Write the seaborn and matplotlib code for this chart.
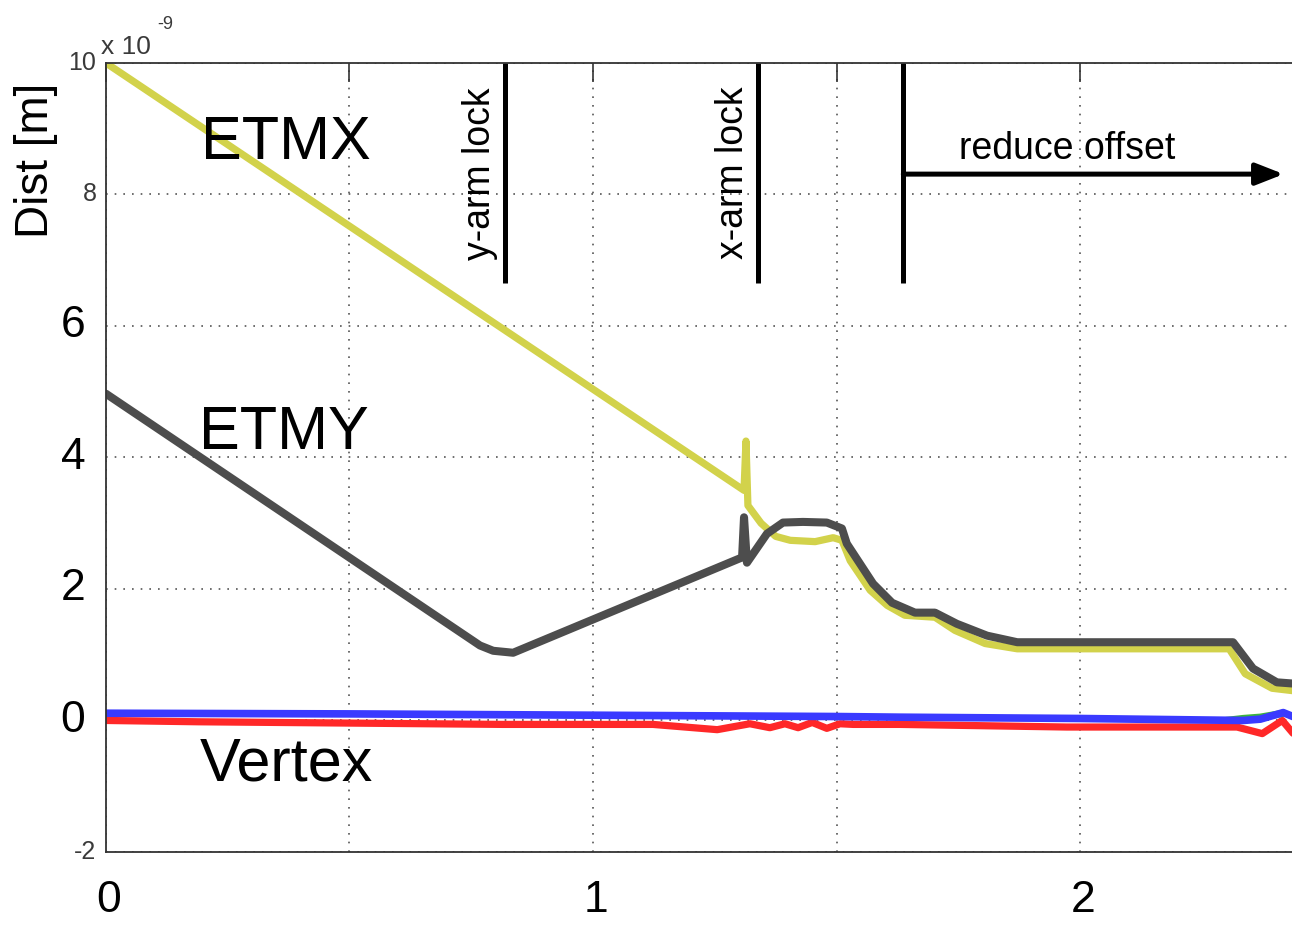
import seaborn as sns
from matplotlib import pyplot as plt
from matplotlib import transforms

sns.set_theme(style='white')
plt.rcParams['font.family'] = ['Liberation Sans', 'DejaVu Sans']
plt.rcParams['text.color'] = 'black'

# data (x in the plot's time unit, y in nm)
etmx_t = [0, 1.310, 1.314, 1.318, 1.345, 1.375, 1.405, 1.456, 1.493, 1.511, 1.528,
          1.569, 1.604, 1.640, 1.702, 1.743, 1.805, 1.871, 2.306, 2.339, 2.394, 2.44]
etmx = [10.0, 3.50, 4.25, 3.27, 3.00, 2.80, 2.74, 2.72, 2.78, 2.74, 2.43,
        1.98, 1.75, 1.60, 1.57, 1.37, 1.17, 1.09, 1.09, 0.71, 0.49, 0.45]

etmy_t = [0, 0.768, 0.795, 0.836, 1.306, 1.310, 1.316, 1.357, 1.390, 1.431, 1.480, 1.511,
          1.521, 1.575, 1.614, 1.661, 1.702, 1.747, 1.809, 1.871, 2.314, 2.355, 2.404, 2.44]
etmy = [4.97, 1.14, 1.06, 1.03, 2.48, 3.09, 2.40, 2.84, 3.01, 3.02, 3.01, 2.92,
        2.69, 2.08, 1.79, 1.64, 1.64, 1.47, 1.29, 1.19, 1.19, 0.79, 0.58, 0.56]

red_t = [0, 0.19, 0.815, 1.123, 1.255, 1.322, 1.363, 1.394, 1.421, 1.450, 1.480,
         1.507, 1.534, 1.63, 1.973, 2.322, 2.374, 2.415, 2.44]
red = [0.0, -0.02, -0.06, -0.06, -0.14, -0.05, -0.11, -0.05, -0.11, -0.03, -0.12,
       -0.05, -0.06, -0.06, -0.10, -0.10, -0.20, 0.0, -0.22]

green_t = [2.30, 2.335, 2.37, 2.417]
green = [0.0, 0.03, 0.05, 0.11]

blue_t = [0, 0.5, 1.0, 1.5, 1.63, 2.0, 2.335, 2.37, 2.417, 2.44]
blue = [0.11, 0.10, 0.08, 0.06, 0.05, 0.03, 0.0, 0.02, 0.12, 0.05]

events = [0.819, 1.339, 1.637]
event_labels = ['y-arm lock', 'x-arm lock']
yticks = [-2, 0, 2, 4, 6, 8, 10]
big_yticks = [0, 2, 4, 6]
xticks_lab = [0, 1, 2]

fig = plt.figure(figsize=(12.92, 9.39), dpi=100)
ax = fig.add_axes([0.0820, 0.0927, 0.9195, 0.8402])

sns.lineplot(x=etmx_t, y=etmx, ax=ax, color='#d2d24b', linewidth=5.2, sort=False, estimator=None)
sns.lineplot(x=etmy_t, y=etmy, ax=ax, color='#4d4d4d', linewidth=5.8, sort=False, estimator=None)
sns.lineplot(x=red_t, y=red, ax=ax, color='#ff2828', linewidth=5.2, sort=False, estimator=None)
sns.lineplot(x=green_t, y=green, ax=ax, color='#3cb43c', linewidth=5.2, sort=False, estimator=None)
sns.lineplot(x=blue_t, y=blue, ax=ax, color='#3a3aff', linewidth=5.5, sort=False, estimator=None)

ax.set_xlim(0, 2.439)
ax.set_ylim(-2, 10)
ax.set_xticks([0, 0.5, 1, 1.5, 2])
ax.set_yticks(yticks)
ax.tick_params(direction='in', length=14, width=1.2, color='#333333',
               top=True, right=False, labelleft=False, labelbottom=False)
ax.grid(True, linestyle=(0, (1, 4.2)), linewidth=1.2, color='#555555')
for side in ['left', 'top', 'bottom']:
    ax.spines[side].set_color('#333333')
    ax.spines[side].set_linewidth(1.3)
ax.spines['right'].set_visible(False)

# tick labels, mixed sizes like the annotated slide
ylab = transforms.blended_transform_factory(ax.transAxes, ax.transData)
for v in yticks:
    if v in big_yticks:
        ax.text(-0.0175, v, str(v), transform=ylab, ha='right', va='center',
                fontsize=32, color='black')
    else:
        ax.text(-0.008, v, str(v), transform=ylab, ha='right', va='center',
                fontsize=18, color='#3a3a3a')
for v in xticks_lab:
    ax.text(v + 0.006, -2.42, str(v), ha='center', va='top', fontsize=32, color='black')

fig.text(0.0785, 0.942, 'x 10', fontsize=19, color='#3a3a3a', ha='left', va='baseline')
fig.text(0.1215, 0.969, '-9', fontsize=13, color='#3a3a3a', ha='left', va='baseline')
fig.text(0.0275, 0.8296, 'Dist [m]', fontsize=33, rotation=90, ha='center', va='center')

# event markers
ax.vlines(events, 6.66, 10, colors='black', linewidth=3.6)
ax.text(0.768, 8.31, event_labels[0], rotation=90, ha='center', va='center', fontsize=27)
ax.text(1.287, 8.33, event_labels[1], rotation=90, ha='center', va='center', fontsize=27)
ax.annotate('', xy=(2.418, 8.31), xytext=(events[2], 8.31),
            arrowprops=dict(arrowstyle='-|>,head_length=1.4,head_width=0.55',
                            color='black', linewidth=3.6, shrinkA=0, shrinkB=0))
ax.text(1.973, 8.54, 'reduce offset', ha='center', va='baseline', fontsize=27)

ax.text(0.196, 8.54, 'ETMX', ha='left', va='baseline', fontsize=44)
ax.text(0.192, 4.13, 'ETMY', ha='left', va='baseline', fontsize=44)
ax.text(0.193, -0.91, 'Vertex', ha='left', va='baseline', fontsize=44)

fig.savefig('out.png', dpi=100)
